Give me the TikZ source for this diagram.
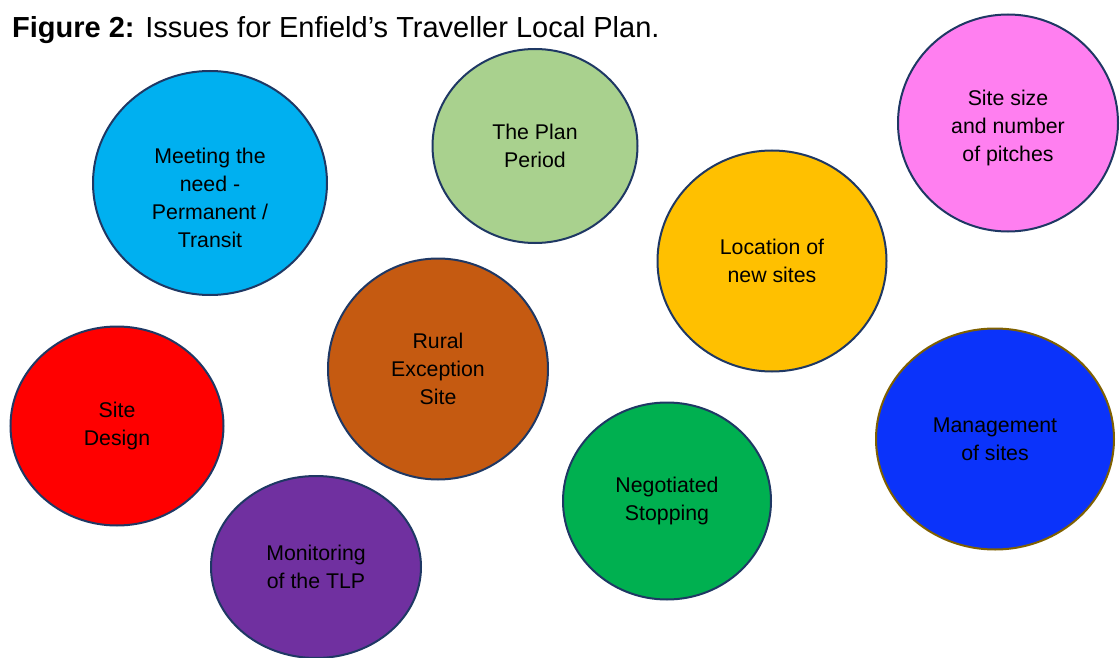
\documentclass[tikz,border=0pt]{standalone}
\usepackage{fontspec}
\setmainfont{Liberation Sans}
\usetikzlibrary{shapes.geometric}

\definecolor{meetblue}{HTML}{00B0F0}
\definecolor{plangreen}{HTML}{A9D18E}
\definecolor{sizepink}{HTML}{FF7FF0}
\definecolor{locgold}{HTML}{FFC000}
\definecolor{ruralbrown}{HTML}{C55A11}
\definecolor{designred}{HTML}{FF0000}
\definecolor{mgmtblue}{HTML}{0B33FA}
\definecolor{stopgreen}{HTML}{00B050}
\definecolor{monpurple}{HTML}{7030A0}
\definecolor{rimnavy}{HTML}{1F3864}
\definecolor{rimbrown}{HTML}{7F6000}

\tikzset{
  bubble/.style={ellipse, draw=rimnavy, line width=2pt, inner sep=0pt},
  bubtext/.style={align=center, font=\fontsize{21.3}{28}\selectfont}
}

\begin{document}
\begin{tikzpicture}[x=1pt, y=-1pt]
    % Page frame
    \useasboundingbox (0, 0) rectangle (1120, 658);

    % Title
    \node[anchor=base west, inner sep=0pt, font=\fontsize{29}{32}\selectfont] (title) at (12, 38)
        {\textbf{Figure 2:} Issues for Enfield’s Traveller Local Plan.};

    % Top row of bubbles
    \node[bubble, fill=meetblue, minimum width=234, minimum height=224] (meet) at (210, 183) {};
    \node[bubtext] (meettext) at (210, 198) {Meeting the\\need -\\Permanent /\\Transit};
    \node[bubble, fill=plangreen, minimum width=205, minimum height=194, bubtext] (plan) at (535, 146) {The Plan\\Period};
    \node[bubble, fill=sizepink, minimum width=220, minimum height=217] (size) at (1008, 123) {};
    \node[bubtext] (sizetext) at (1008, 128) {Site size\\and number\\of pitches};
    \node[bubble, fill=locgold, minimum width=229, minimum height=221, bubtext] (loc) at (772, 261) {Location of\\new sites};

    % Middle row
    \node[bubble, fill=ruralbrown, minimum width=220, minimum height=221, bubtext] (rural) at (438, 369) {Rural\\Exception\\Site};
    \node[bubble, fill=designred, minimum width=213, minimum height=199, bubtext] (design) at (117, 426) {Site\\Design};
    \node[bubble, fill=mgmtblue, draw=rimbrown, minimum width=238, minimum height=221, bubtext] (mgmt) at (995, 439) {Management\\of sites};

    % Bottom row
    \node[bubble, fill=stopgreen, minimum width=208, minimum height=197, bubtext] (stop) at (667, 501) {Negotiated\\Stopping};
    \node[bubble, fill=monpurple, minimum width=210, minimum height=182, bubtext] (mon) at (316, 567) {Monitoring\\of the TLP};
\end{tikzpicture}
\end{document}
